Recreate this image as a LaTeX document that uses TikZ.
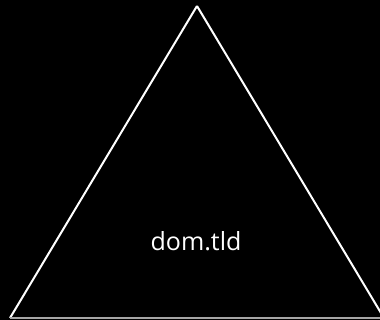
\documentclass[tikz,border=0pt]{standalone}
\usepackage{fontspec}
\setmainfont{Open Sans}
\begin{document}
\begin{tikzpicture}[x=1pt,y=-1pt,
  edge/.style={draw=white,line width=2pt,line join=miter},
  lbl/.style={text=white,font=\fontsize{25}{28}\selectfont,inner sep=0pt}]
\fill[black] (0,0) rectangle (380,320);
\useasboundingbox (0,0) rectangle (380,320);
\coordinate (apex) at (197,6);
\coordinate (bl) at (10,318);
\coordinate (br) at (384,318);
\draw[edge] (apex) -- (bl);
\draw[edge] (apex) -- (br);
\draw[draw=gray!70,line width=2pt] (bl) -- (br);
\node[lbl] (t) at (196,241) {dom.tld};
\end{tikzpicture}
\end{document}
